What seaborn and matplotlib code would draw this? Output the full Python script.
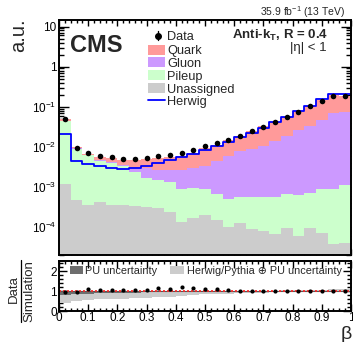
import numpy as np
import pandas as pd
import matplotlib
matplotlib.use("Agg")
import matplotlib.pyplot as plt
import seaborn as sns
from matplotlib.ticker import LogLocator, MultipleLocator, NullFormatter, FixedLocator, FixedFormatter
from matplotlib.patches import Rectangle
from matplotlib.lines import Line2D

# ---- binned distributions of the pileup-jet variable beta (25 bins of 0.04) ----
bin_edges = [0.00, 0.04, 0.08, 0.12, 0.16, 0.20, 0.24, 0.28, 0.32, 0.36, 0.40, 0.44, 0.48,
             0.52, 0.56, 0.60, 0.64, 0.68, 0.72, 0.76, 0.80, 0.84, 0.88, 0.92, 0.96, 1.00]

data = [0.049, 0.0095, 0.0072, 0.0059, 0.0055, 0.0050, 0.0049, 0.0052, 0.0059, 0.0063,
        0.0072, 0.0082, 0.0102, 0.0122, 0.0151, 0.0188, 0.0242, 0.032, 0.041, 0.0556,
        0.076, 0.105, 0.143, 0.190, 0.183]

quark = [0.0053, 0.0007, 0.00035, 0.00086, 0.00099, 0.00132, 0.00154, 0.00196, 0.00243, 0.00293,
         0.0032, 0.0042, 0.0058, 0.0069, 0.0089, 0.0112, 0.0152, 0.0216, 0.0278, 0.0377,
         0.0508, 0.072, 0.0965, 0.123, 0.107]

gluon = [0.0002, 0.0001, 0.0001, 0.0002, 0.0002, 0.0002, 0.0007, 0.0013, 0.00124, 0.00137,
         0.0018, 0.00205, 0.00242, 0.00375, 0.0053, 0.00725, 0.00845, 0.01015, 0.01344, 0.01784,
         0.02538, 0.0333, 0.0471, 0.0681, 0.0749]

pileup = [0.0439, 0.0085, 0.0058, 0.0040, 0.0036, 0.0029, 0.0020, 0.0013, 0.00116, 0.00109,
          0.00077, 0.00078, 0.00068, 0.00050, 0.00040, 0.00043, 0.00046, 0.00047, 0.00050, 0.00056,
          0.00056, 0.00060, 0.00083, 0.00086, 0.00106]

unassigned = [0.00115, 0.00048, 0.00035, 0.00043, 0.00036, 0.00035, 0.00034, 0.00032, 0.00030, 0.00024,
              0.00013, 0.00017, 0.00020, 0.00015, 0.00010, 0.000125, 0.00009, 0.00008, 0.000065, 0.000097,
              0.000058, 0.000097, 0.00007, 0.000038, 0.000039]

herwig = [0.0205, 0.0044, 0.0038, 0.0033, 0.0029, 0.0028, 0.0029, 0.0033, 0.0040, 0.0046,
          0.0055, 0.0067, 0.0082, 0.0102, 0.013, 0.0175, 0.0225, 0.030, 0.041, 0.056,
          0.077, 0.106, 0.152, 0.205, 0.205]

# uncertainty bands of the ratio panel (lower / upper edge per bin)
pu_lo = [0.82, 0.85, 0.87, 0.89, 0.90, 0.91, 0.92, 0.93, 0.94, 0.95, 0.95, 0.96, 0.96, 0.97, 0.97,
         0.97, 0.98, 0.98, 0.98, 0.98, 0.98, 0.98, 0.98, 0.98, 0.98]
pu_hi = [1.02, 1.02, 1.02, 1.02, 1.02, 1.02, 1.02, 1.02, 1.02, 1.02, 1.02, 1.02, 1.02, 1.02, 1.02,
         1.02, 1.02, 1.02, 1.02, 1.02, 1.02, 1.02, 1.02, 1.02, 1.02]
syst_lo = [0.40, 0.50, 0.55, 0.58, 0.60, 0.62, 0.64, 0.66, 0.70, 0.72, 0.76, 0.80, 0.83, 0.85, 0.87,
           0.89, 0.91, 0.92, 0.93, 0.94, 0.95, 0.96, 0.97, 0.97, 0.97]
syst_hi = [1.02, 1.02, 1.02, 1.02, 1.02, 1.02, 1.02, 1.02, 1.02, 1.02, 1.02, 1.02, 1.02, 1.02, 1.02,
           1.02, 1.02, 1.02, 1.02, 1.03, 1.04, 1.05, 1.07, 1.08, 1.10]

components = ["Quark", "Gluon", "Pileup", "Unassigned"]
comp_colors = {"Quark": "#ff9a9a", "Gluon": "#cc99ff", "Pileup": "#ccffcc", "Unassigned": "#cccccc"}

x_ticks = [0.0, 0.1, 0.2, 0.3, 0.4, 0.5, 0.6, 0.7, 0.8, 0.9, 1.0]
x_ticklabels = ["0", "0.1", "0.2", "0.3", "0.4", "0.5", "0.6", "0.7", "0.8", "0.9", "1"]
y_ticks = [1e-4, 1e-3, 1e-2, 1e-1, 1, 10]
y_ticklabels = [r"$10^{-4}$", r"$10^{-3}$", r"$10^{-2}$", r"$10^{-1}$", "1", "10"]

# ---- derived quantities ----
edges = np.array(bin_edges)
centers = 0.5 * (edges[:-1] + edges[1:])
stack_total = np.array(quark) + np.array(gluon) + np.array(pileup) + np.array(unassigned)
ratio = np.array(data) / stack_total

stack_df = pd.DataFrame({
    "beta": np.tile(centers, len(components)),
    "weight": np.concatenate([quark, gluon, pileup, unassigned]),
    "component": np.repeat(components, len(centers)),
})

# ---- style ----
sns.set_theme(style="ticks")
plt.rcParams["font.family"] = ["Liberation Sans", "DejaVu Sans"]
plt.rcParams["mathtext.fontset"] = "custom"
plt.rcParams["mathtext.rm"] = "Liberation Sans"
plt.rcParams["mathtext.it"] = "Liberation Sans:italic"
plt.rcParams["mathtext.bf"] = "Liberation Sans:bold"
plt.rcParams["axes.linewidth"] = 1.4

W, H = 353, 342
fig = plt.figure(figsize=(W / 100, H / 100), dpi=100)


def fx(px):
    return px / W


def fy(py):
    return 1 - py / H


ax = fig.add_axes([fx(59), fy(255), fx(351) - fx(59), fy(19.5) - fy(255)])
rax = fig.add_axes([fx(59), fy(311), fx(351) - fx(59), fy(261) - fy(311)])

# ---- main panel: stacked simulation, Herwig, data ----
sns.histplot(data=stack_df, x="beta", weights="weight", hue="component", hue_order=components,
             bins=bin_edges, multiple="stack", element="step", fill=True, palette=comp_colors,
             alpha=1, linewidth=0, legend=False, ax=ax)
sns.histplot(x=centers, weights=herwig, bins=bin_edges, element="step", fill=False,
             color="#0000ff", linewidth=1.3, ax=ax)
sns.scatterplot(x=centers, y=data, color="black", s=16, linewidth=0, zorder=5, ax=ax)

ax.set_yscale("log")
ax.set_xlim(0, 1)
ax.set_ylim(2e-5, 15)
ax.set_xlabel("")
ax.set_ylabel("")
ax.yaxis.set_major_locator(FixedLocator(y_ticks))
ax.yaxis.set_major_formatter(FixedFormatter(y_ticklabels))
ax.yaxis.set_minor_locator(LogLocator(base=10, subs=np.arange(2, 10), numticks=20))
ax.yaxis.set_minor_formatter(NullFormatter())
ax.xaxis.set_major_locator(MultipleLocator(0.1))
ax.xaxis.set_minor_locator(MultipleLocator(0.02))
ax.tick_params(axis="x", labelbottom=False)
ax.tick_params(which="both", direction="in", top=True, right=True, width=1.0, colors="black")
ax.tick_params(axis="y", which="major", length=7, labelsize=8.5, pad=2)
ax.tick_params(axis="y", which="minor", length=3.5)
ax.tick_params(axis="x", which="major", length=4.5)
ax.tick_params(axis="x", which="minor", length=2.2)
for s in ax.spines.values():
    s.set_color("black")

# legend of the main panel
leg_rows = [35.5, 49.5, 62.0, 75.0, 88.0, 100.0]
leg_labels = ["Data", "Quark", "Gluon", "Pileup", "Unassigned", "Herwig"]
for i, (yy, lab) in enumerate(zip(leg_rows, leg_labels)):
    fig.text(fx(167), fy(yy + 4.6), lab, fontsize=9.2, ha="left", va="baseline")
    if lab in comp_colors:
        fig.add_artist(Rectangle((fx(148), fy(yy + 5)), fx(165) - fx(148), fy(yy - 5) - fy(yy + 5),
                                 transform=fig.transFigure, facecolor=comp_colors[lab], edgecolor="none"))
    elif lab == "Herwig":
        fig.add_artist(Line2D([fx(148), fx(165)], [fy(yy), fy(yy)], transform=fig.transFigure,
                              color="#0000ff", linewidth=1.3))
    else:
        fig.add_artist(Line2D([fx(157.5), fx(157.5)], [fy(yy - 4.5), fy(yy + 4.5)], transform=fig.transFigure,
                              color="black", linewidth=1.0))
        fig.add_artist(Line2D([fx(157.5)], [fy(yy)], transform=fig.transFigure, color="black",
                              marker="o", markersize=4, linestyle="none"))

fig.text(fx(70), fy(52), "CMS", fontsize=17, fontweight="bold", ha="left", va="baseline")
fig.text(fx(345), fy(16.5), r"35.9 fb$^{-1}$ (13 TeV)", fontsize=7.5, ha="right", va="baseline")
fig.text(fx(328), fy(39), r"Anti-k$_{\mathbf{T}}$, R = 0.4", fontsize=9.5, fontweight="bold",
         ha="right", va="baseline")
fig.text(fx(327), fy(51), "|η| < 1", fontsize=9.5, ha="right", va="baseline")
fig.text(fx(18.5), fy(18), "a.u.", fontsize=14.5, rotation=90, ha="center", va="top")

# ---- ratio panel ----
def ext(v):
    v = list(v)
    return v + [v[-1]]


rax.fill_between(edges, ext(syst_lo), ext(syst_hi), step="post", color="#cccccc", linewidth=0)
rax.fill_between(edges, ext(pu_lo), ext(pu_hi), step="post", color="#6e6e6e", linewidth=0)
rax.axhline(1.0, color="#555555", linewidth=0.8)
rax.axhline(1.0, color="#ff2020", linewidth=1.2, linestyle=(0, (1.2, 1.2)))
sns.scatterplot(x=centers, y=ratio, color="black", s=9, linewidth=0, zorder=5, ax=rax)

rax.set_xlim(0, 1)
rax.set_ylim(0, 2.5)
rax.set_xlabel("")
rax.set_ylabel("")
rax.xaxis.set_major_locator(FixedLocator(x_ticks))
rax.xaxis.set_major_formatter(FixedFormatter(x_ticklabels))
rax.xaxis.set_minor_locator(MultipleLocator(0.02))
rax.yaxis.set_major_locator(FixedLocator([0, 1, 2]))
rax.yaxis.set_major_formatter(FixedFormatter(["0", "1", "2"]))
rax.yaxis.set_minor_locator(MultipleLocator(0.2))
rax.tick_params(which="both", direction="in", top=True, right=True, width=1.0, colors="black")
rax.tick_params(axis="x", which="major", length=5, labelsize=8.5, pad=1)
rax.tick_params(axis="x", which="minor", length=2.5)
rax.tick_params(axis="y", which="major", length=6, labelsize=8.5, pad=1.5)
rax.tick_params(axis="y", which="minor", length=3)
for s in rax.spines.values():
    s.set_color("black")

fig.add_artist(Rectangle((fx(70), fy(274)), fx(83) - fx(70), fy(266) - fy(274),
                         transform=fig.transFigure, facecolor="#6e6e6e", edgecolor="none"))
fig.text(fx(85), fy(273.5), "PU uncertainty", fontsize=7.8, ha="left", va="baseline")
fig.add_artist(Rectangle((fx(170), fy(274)), fx(184) - fx(170), fy(266) - fy(274),
                         transform=fig.transFigure, facecolor="#cccccc", edgecolor="none"))
fig.text(fx(187), fy(273.5), "Herwig/Pythia ⊕ PU uncertainty", fontsize=7.8, ha="left", va="baseline")

# ratio axis title: Data over Simulation
fig.text(fx(13.5), fy(289), "Data", fontsize=9.5, rotation=90, ha="center", va="center")
fig.text(fx(29), fy(291), "Simulation", fontsize=9.5, rotation=90, ha="center", va="center")
fig.add_artist(Line2D([fx(20.5), fx(20.5)], [fy(260), fy(322)], transform=fig.transFigure,
                      color="black", linewidth=0.9))

fig.text(fx(352), fy(339), "β", fontsize=14, ha="right", va="baseline")

fig.savefig("out.png", dpi=100)
